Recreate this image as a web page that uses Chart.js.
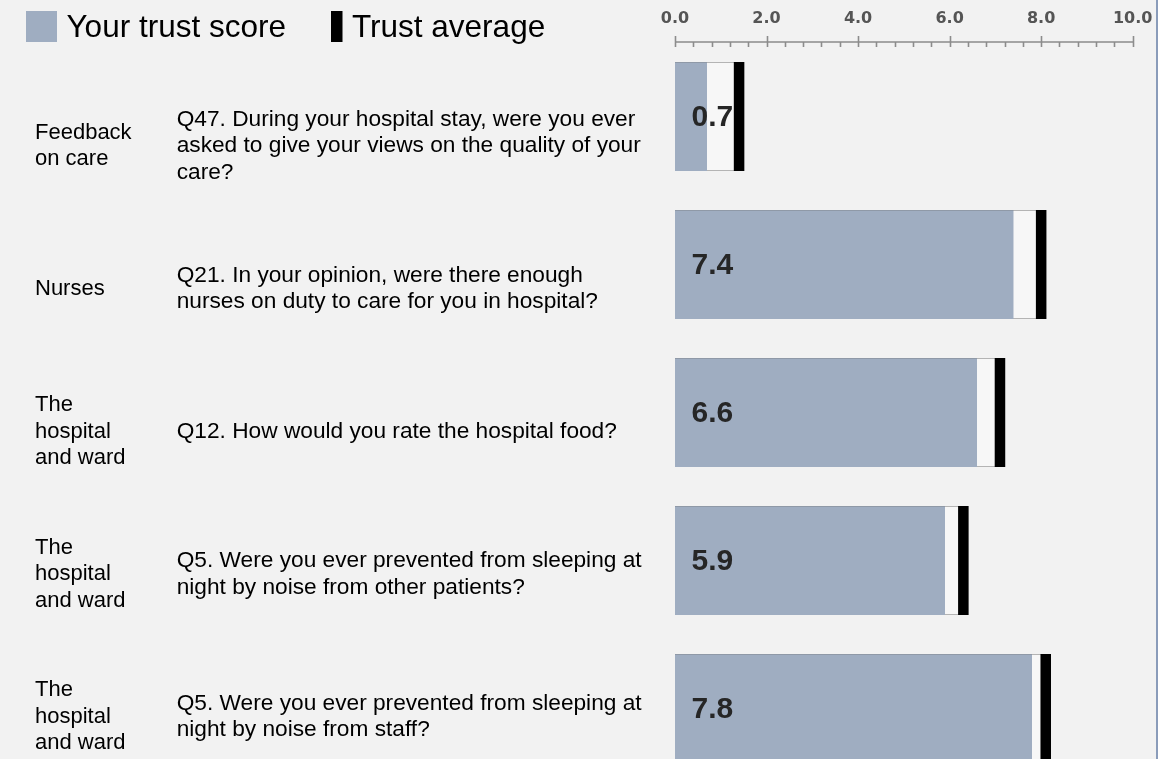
<!DOCTYPE html>
<html><head><meta charset="utf-8">
<script src="https://cdn.jsdelivr.net/npm/chart.js@4.4.1/dist/chart.umd.min.js"></script>
<style>
html,body{margin:0;padding:0;background:#fff;}
#wrap{position:relative;width:1176px;height:759px;overflow:hidden;background:#fff;}
#panel{position:absolute;left:0;top:0;width:1156px;height:759px;background:#f2f2f2;border-right:2px solid #8a9cba;}
#c{position:absolute;left:0;top:0;width:1176px;height:783px;}
</style></head><body>
<div id="wrap"><div id="panel"></div><canvas id="c" width="1176" height="783"></canvas></div>
<script>
// ---- data ----
const categories = [
  ["Feedback", "on care"],
  ["Nurses"],
  ["The", "hospital", "and ward"],
  ["The", "hospital", "and ward"],
  ["The", "hospital", "and ward"]
];
const questions = [
  ["Q47. During your hospital stay, were you ever", "asked to give your views on the quality of your", "care?"],
  ["Q21. In your opinion, were there enough", "nurses on duty to care for you in hospital?"],
  ["Q12. How would you rate the hospital food?"],
  ["Q5. Were you ever prevented from sleeping at", "night by noise from other patients?"],
  ["Q5. Were you ever prevented from sleeping at", "night by noise from staff?"]
];
const trustScores = [0.7, 7.4, 6.6, 5.9, 7.8];
const trustAverages = [1.4, 8.0, 7.1, 6.3, 8.1];
const axisMin = 0, axisMax = 10, majorStep = 2, minorStep = 0.4;
const seriesNames = ["Your trust score", "Trust average"];

// ---- styles ----
const SCORE_COLOR = '#9fadc1';
const AVG_COLOR = '#000000';
const RANGE_COLOR = '#f7f7f7';
const MARKER_HALF = 0.115;
const CAT_FONT = '22px "Liberation Sans", Arial, sans-serif';
const Q_FONT = '22.7px "Liberation Sans", Arial, sans-serif';
const TEXT_LH = 26.5;

const overlay = {
  id: 'overlay',
  afterDatasetsDraw(chart) {
    const ctx = chart.ctx, xs = chart.scales.x;
    const meta = chart.getDatasetMeta(1);
    ctx.save();
    ctx.font = 'bold 30px "Liberation Sans", Arial, sans-serif';
    ctx.fillStyle = '#262626';
    ctx.textAlign = 'left';
    ctx.textBaseline = 'middle';
    meta.data.forEach((bar, i) => {
      ctx.fillText(trustScores[i].toFixed(1), xs.getPixelForValue(axisMin) + 16.5, bar.y + 1);
    });
    ctx.restore();
  },
  afterDraw(chart) {
    const ctx = chart.ctx, xs = chart.scales.x, ys = chart.scales.y;
    const top = chart.chartArea.top - 0.5;
    ctx.save();
    // axis line with ticks
    ctx.strokeStyle = '#8c8c8c';
    ctx.lineWidth = 1.6;
    ctx.beginPath();
    ctx.moveTo(xs.getPixelForValue(axisMin), top);
    ctx.lineTo(xs.getPixelForValue(axisMax), top);
    const n = Math.round((axisMax - axisMin) / minorStep);
    const per = Math.round(majorStep / minorStep);
    for (let k = 0; k <= n; k++) {
      const px = Math.round(xs.getPixelForValue(axisMin + k * minorStep)) + 0.5;
      const major = k % per === 0;
      ctx.moveTo(px, major ? top - 6 : top);
      ctx.lineTo(px, top + 5);
    }
    ctx.stroke();

    // left-side texts
    ctx.fillStyle = '#000';
    ctx.textAlign = 'left';
    ctx.textBaseline = 'middle';
    const drawBlock = (lines, x, cy) => {
      const y0 = cy - (lines.length - 1) * TEXT_LH / 2;
      lines.forEach((l, j) => ctx.fillText(l, x, y0 + j * TEXT_LH));
    };
    categories.forEach((c, i) => {
      const cy = ys.getPixelForValue(i) * 0.9642 + 33.8;
      ctx.font = CAT_FONT;
      drawBlock(c, 35, cy);
      ctx.font = Q_FONT;
      drawBlock(questions[i], 176.7, cy);
    });

    // legend
    ctx.fillStyle = SCORE_COLOR;
    ctx.fillRect(26, 11, 31, 31);
    ctx.fillStyle = AVG_COLOR;
    ctx.fillRect(331, 11, 11.5, 31);
    ctx.fillStyle = '#000';
    ctx.font = '31.5px "Liberation Sans", Arial, sans-serif';
    ctx.textBaseline = 'alphabetic';
    ctx.fillText(seriesNames[0], 66.5, 37);
    ctx.fillText(seriesNames[1], 352, 37);
    ctx.restore();
  }
};

new Chart(document.getElementById('c'), {
  type: 'bar',
  data: {
    labels: questions.map((q, i) => i + ': ' + q[0]),
    datasets: [
      { label: 'range', data: trustAverages, backgroundColor: RANGE_COLOR,
        borderColor: '#b4b4b4', borderWidth: {top: 1, bottom: 1, left: 0, right: 0},
        borderSkipped: false, grouped: false, order: 3 },
      { label: seriesNames[0], data: trustScores, backgroundColor: SCORE_COLOR,
        borderColor: '#8f99a7', borderWidth: {top: 1, bottom: 0, left: 0, right: 0},
        borderSkipped: false, grouped: false, order: 2 },
      { label: seriesNames[1], data: trustAverages.map(a => [a - MARKER_HALF, a + MARKER_HALF]),
        backgroundColor: AVG_COLOR, borderWidth: 0, grouped: false, order: 1 }
    ]
  },
  options: {
    indexAxis: 'y',
    responsive: false,
    animation: false,
    devicePixelRatio: 1,
    layout: { padding: { left: 675, right: 43.3, top: 0, bottom: 0.5 } },
    datasets: { bar: { categoryPercentage: 1.0, barPercentage: 0.7365 } },
    plugins: { legend: { display: false }, tooltip: { enabled: false } },
    scales: {
      x: {
        position: 'top', min: axisMin, max: axisMax,
        grid: { display: false, drawTicks: false },
        border: { display: false },
        ticks: {
          stepSize: majorStep,
          padding: 14,
          color: '#555555',
          font: { family: 'DejaVu Sans', weight: 'bold', size: 16 },
          callback: v => Number(v).toFixed(1)
        },
        afterFit(scale) { scale.height = 42.5; }
      },
      y: { display: false }
    }
  },
  plugins: [overlay]
});
</script>
</body></html>
